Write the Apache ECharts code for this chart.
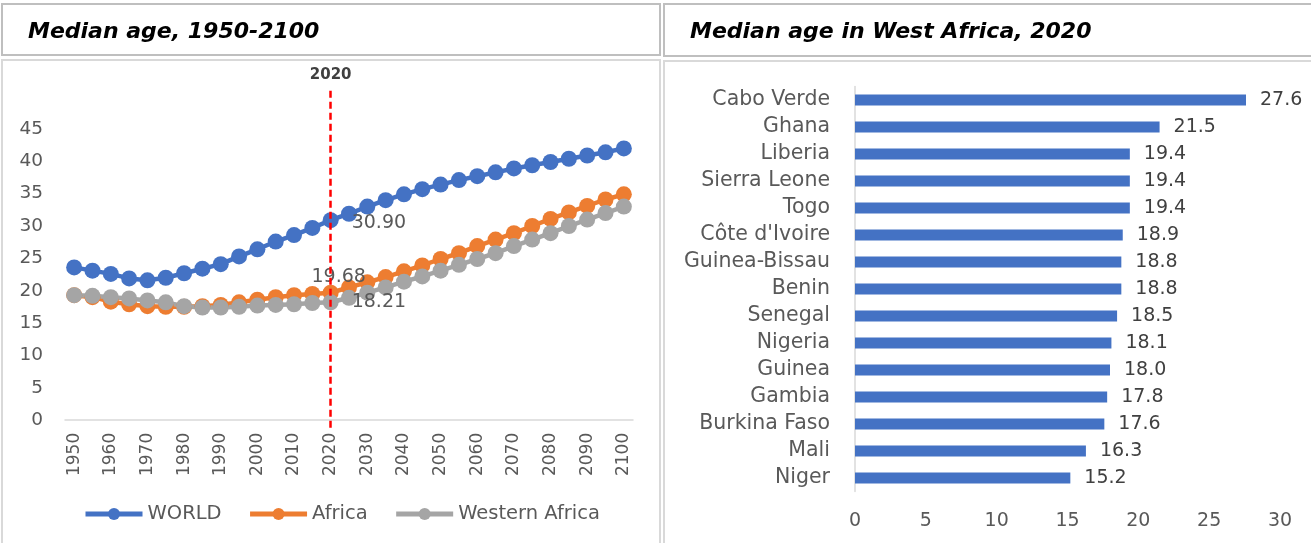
<!DOCTYPE html>
<html>
<head>
<meta charset="utf-8">
<script src="https://cdn.jsdelivr.net/npm/echarts@6/dist/echarts.min.js"></script>
<style>
  html, body { margin: 0; padding: 0; background: #fff; }
  #main { width: 1311px; height: 543px; }
</style>
</head>
<body>
<div id="main"></div>
<script>
// left panel: median age 1950-2100 (every 5 years)
var years = ['1950','1955','1960','1965','1970','1975','1980','1985','1990','1995',
             '2000','2005','2010','2015','2020','2025','2030','2035','2040','2045',
             '2050','2055','2060','2065','2070','2075','2080','2085','2090','2095','2100'];
var world = [23.6, 23.1, 22.6, 21.9, 21.6, 22.0, 22.7, 23.4, 24.1, 25.3,
             26.4, 27.6, 28.6, 29.7, 30.90, 31.9, 33.0, 34.0, 34.9, 35.7,
             36.4, 37.1, 37.7, 38.3, 38.9, 39.4, 39.9, 40.4, 40.9, 41.4, 42.0];
var africa = [19.3, 19.0, 18.3, 17.9, 17.6, 17.5, 17.5, 17.6, 17.8, 18.2,
              18.6, 19.0, 19.3, 19.5, 19.68, 20.5, 21.3, 22.1, 23.0, 23.9,
              24.9, 25.8, 26.9, 27.9, 28.9, 30.0, 31.1, 32.1, 33.1, 34.1, 34.9];
var westAfrica = [19.3, 19.2, 19.0, 18.8, 18.5, 18.2, 17.6, 17.4, 17.4, 17.5,
                  17.7, 17.8, 17.9, 18.1, 18.21, 18.9, 19.7, 20.5, 21.4, 22.2,
                  23.1, 24.0, 24.9, 25.8, 26.9, 27.9, 28.9, 30.0, 31.0, 32.0, 33.0];
var ageTicks = [0, 5, 10, 15, 20, 25, 30, 35, 40, 45];
var markYear = '2020';

// right panel: West Africa 2020
var countries = ['Cabo Verde','Ghana','Liberia','Sierra Leone','Togo',"Côte d'Ivoire",
                 'Guinea-Bissau','Benin','Senegal','Nigeria','Guinea','Gambia',
                 'Burkina Faso','Mali','Niger'];
var medianAge2020 = [27.6, 21.5, 19.4, 19.4, 19.4, 18.9, 18.8, 18.8, 18.5, 18.1,
                     18.0, 17.8, 17.6, 16.3, 15.2];

var FONT = 'DejaVu Sans';
var GREY = '#595959';

var idx = years.indexOf(markYear);

// only the 2020 point gets a value label
function withLabel(values, labelOpt) {
	return values.map(function (v, i) {
		if (i !== idx) return v;
		return {
			value: v,
			label: Object.assign({
				show: true,
				formatter: function (p) { return p.value.toFixed(2); },
				color: GREY,
				fontSize: 19,
				fontFamily: FONT
			}, labelOpt)
		};
	});
}

function lineSeries(name, values, color, labelOpt) {
	return {
		name: name,
		type: 'line',
		xAxisIndex: 0,
		yAxisIndex: 0,
		symbol: 'circle',
		symbolSize: 16,
		showAllSymbol: true,
		clip: false,
		lineStyle: { width: 4.5, color: color },
		itemStyle: { color: color },
		emphasis: { disabled: true },
		data: withLabel(values, labelOpt)
	};
}

var worldSeries = lineSeries('WORLD', world, '#4472C4', { position: 'right', distance: 13, offset: [0, 3] });
worldSeries.markLine = {
	silent: true,
	symbol: 'none',
	lineStyle: { color: '#FF0000', width: 2.5, type: [7, 4] },
	label: {
		show: true,
		position: 'end',
		distance: 8,
		formatter: markYear,
		color: '#404040',
		fontWeight: 'bold',
		fontSize: 15,
		fontFamily: FONT
	},
	data: [[{ coord: [markYear, -1.2] }, { coord: [markYear, 51] }]]
};

var option = {
	animation: false,
	backgroundColor: '#fff',
	textStyle: { fontFamily: FONT },
	graphic: [
		{ type: 'rect', shape: { x: 2, y: 4, width: 658, height: 51 }, style: { fill: 'none', stroke: '#bfbfbf', lineWidth: 2 } },
		{ type: 'rect', shape: { x: 2, y: 60, width: 658, height: 500 }, style: { fill: 'none', stroke: '#d9d9d9', lineWidth: 2 } },
		{ type: 'rect', shape: { x: 664, y: 4, width: 660, height: 52 }, style: { fill: 'none', stroke: '#bfbfbf', lineWidth: 2 } },
		{ type: 'rect', shape: { x: 664, y: 61, width: 660, height: 500 }, style: { fill: 'none', stroke: '#d9d9d9', lineWidth: 2 } },
		{ type: 'text', x: 28, y: 32, style: { text: 'Median age, 1950-2100', fill: '#000', font: 'italic bold 22px "DejaVu Sans"', verticalAlign: 'middle' } },
		{ type: 'text', x: 690, y: 32, style: { text: 'Median age in West Africa, 2020', fill: '#000', font: 'italic bold 22px "DejaVu Sans"', verticalAlign: 'middle' } }
	],
	legend: {
		data: ['WORLD', 'Africa', 'Western Africa'],
		left: 78,
		top: 499,
		itemWidth: 57,
		itemHeight: 15,
		itemGap: 26,
		lineStyle: { width: 5 },
		textStyle: { color: GREY, fontSize: 19.5, fontFamily: FONT }
	},
	grid: [
		{ left: 65, top: 90.2, width: 568, height: 337.6 },
		{ left: 855, top: 86.5, width: 425, height: 405 }
	],
	xAxis: [
		{
			type: 'category',
			gridIndex: 0,
			data: years,
			axisLine: { onZero: true, lineStyle: { color: '#d9d9d9', width: 1.5 } },
			axisTick: { show: false },
			axisLabel: { interval: 1, rotate: 90, margin: 5, color: GREY, fontSize: 17, fontFamily: FONT }
		},
		{
			type: 'value',
			gridIndex: 1,
			min: 0,
			max: 30,
			interval: 5,
			splitLine: { show: false },
			axisLine: { show: false },
			axisTick: { show: false },
			axisLabel: { margin: 20, color: GREY, fontSize: 19, fontFamily: FONT }
		}
	],
	yAxis: [
		{
			type: 'value',
			gridIndex: 0,
			min: -1.2,
			max: 51,
			splitLine: { show: false },
			axisLine: { show: false },
			axisTick: { show: false },
			axisLabel: {
				customValues: ageTicks,
				margin: 22,
				color: GREY,
				fontSize: 18.5,
				fontFamily: FONT
			}
		},
		{
			type: 'category',
			gridIndex: 1,
			inverse: true,
			data: countries,
			axisLine: { lineStyle: { color: '#d9d9d9', width: 1.5 } },
			axisTick: { show: false },
			axisLabel: { interval: 0, margin: 25, color: GREY, fontSize: 20.5, fontFamily: FONT }
		}
	],
	series: [
		worldSeries,
		lineSeries('Africa', africa, '#ED7D31', { position: 'top', distance: 0, offset: [8, 2] }),
		lineSeries('Western Africa', westAfrica, '#A5A5A5', { position: 'right', distance: 13, offset: [0, 0] }),
		{
			name: 'Median age 2020',
			type: 'bar',
			xAxisIndex: 1,
			yAxisIndex: 1,
			barWidth: 11,
			itemStyle: { color: '#4472C4' },
			emphasis: { disabled: true },
			label: {
				show: true,
				position: 'right',
				distance: 14,
				color: '#404040',
				fontSize: 19,
				fontFamily: FONT,
				formatter: function (p) { return p.value.toFixed(1); }
			},
			data: medianAge2020
		}
	]
};

var chart = echarts.init(document.getElementById('main'));
chart.setOption(option);
</script>
</body>
</html>
